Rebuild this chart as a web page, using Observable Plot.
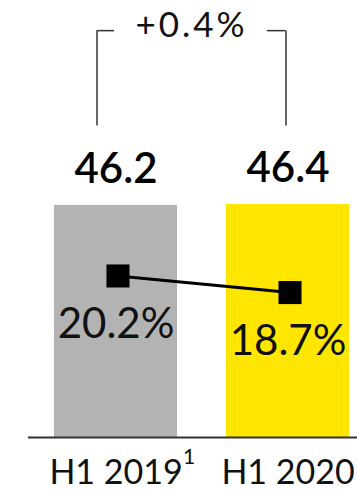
<!DOCTYPE html>
<html>
<head>
<meta charset="utf-8">
<script src="https://cdn.jsdelivr.net/npm/d3@7"></script>
<script src="https://cdn.jsdelivr.net/npm/@observablehq/plot@0.6"></script>
<style>
  html, body { margin: 0; padding: 0; background: #fff; }
  #chart { position: relative; width: 357px; height: 489px; }
  #chart svg { position: absolute; left: 0; top: 0; }
</style>
</head>
<body>
<div id="chart"></div>
<script>
// Half-year revenue (bars) and margin (line, secondary scale)
const periods = ["H1 2019", "H1 2020"];
const revenue = [46.2, 46.4];
const margin = [20.2, 18.7];
const barColors = ["#b3b3b3", "#ffe600"];
const footnotes = [{period: "H1 2019", mark: "1"}];

const rows = periods.map((p, i) => ({period: p, revenue: revenue[i], margin: margin[i]}));
const change = d3.format("+.1%")(revenue[1] / revenue[0] - 1);

const font = "Lato, 'Open Sans', sans-serif";
const frame = {width: 357, height: 489, marginTop: 0, marginBottom: 52, marginLeft: 28, marginRight: 0};
const xScale = {type: "band", domain: periods, paddingInner: 0.2832, paddingOuter: 0.0925, align: 0.78, axis: null};
const ink = "#111";
const bracketLow = 62, bracketHigh = 81;

// Bars, value labels, period labels and the change bracket
const barPlot = Plot.plot({
  ...frame,
  style: {fontFamily: font, background: "white", overflow: "visible"},
  x: xScale,
  y: {domain: [0, 87], axis: null},
  color: {domain: periods, range: barColors},
  marks: [
    Plot.barY(rows, {x: "period", y: "revenue", fill: "period"}),
    Plot.ruleY([0], {stroke: "#333", strokeWidth: 2}),
    Plot.text(rows, {x: "period", y: "revenue", text: d => d.revenue.toFixed(1), lineAnchor: "bottom", dy: -22, fontSize: 42, fontWeight: 600, fill: "#000"}),
    Plot.text(periods, {x: d => d, frameAnchor: "bottom", lineAnchor: "bottom", dy: 46, fontSize: 34, fill: ink}),
    Plot.text(footnotes, {x: "period", text: "mark", frameAnchor: "bottom", lineAnchor: "top", dy: 12, dx: 73, fontSize: 21, fill: ink}),
    Plot.ruleX([periods[0]], {x: d => d, y1: bracketLow, y2: bracketHigh, dx: -19, stroke: "#333", strokeWidth: 1.5}),
    Plot.ruleX([periods[1]], {x: d => d, y1: bracketLow, y2: bracketHigh, dx: -2, stroke: "#333", strokeWidth: 1.5}),
    Plot.tickY([periods[0]], {x: d => d, y: bracketHigh, insetLeft: 43, insetRight: 63, stroke: "#333", strokeWidth: 1.5}),
    Plot.tickY([periods[1]], {x: d => d, y: bracketHigh, insetLeft: 41, insetRight: 64, stroke: "#333", strokeWidth: 1.5}),
    Plot.text([change], {frameAnchor: "top", lineAnchor: "bottom", dy: 36, dx: -1.5, fontSize: 35, fill: ink})
  ]
});

// widen the change label's tracking
barPlot.querySelectorAll("text").forEach(t => {
  if (t.textContent === change) t.setAttribute("letter-spacing", "3");
});

// Margin line on its own scale, drawn over the bars
const marginPlot = Plot.plot({
  ...frame,
  style: {fontFamily: font, background: "transparent", overflow: "visible"},
  x: xScale,
  y: {domain: [5.6, 45.1], axis: null},
  marks: [
    Plot.line(rows, {x: "period", y: "margin", stroke: "#000", strokeWidth: 3, dx: 2}),
    Plot.dot(rows, {x: "period", y: "margin", symbol: "square", r: 13, fill: "#000", stroke: null, dx: 2}),
    Plot.text(rows, {x: "period", y: "margin", text: d => d.margin.toFixed(1) + "%", lineAnchor: "bottom", dy: 62, fontSize: 42, fill: ink})
  ]
});

const chart = document.getElementById("chart");
chart.append(barPlot, marginPlot);
</script>
</body>
</html>
